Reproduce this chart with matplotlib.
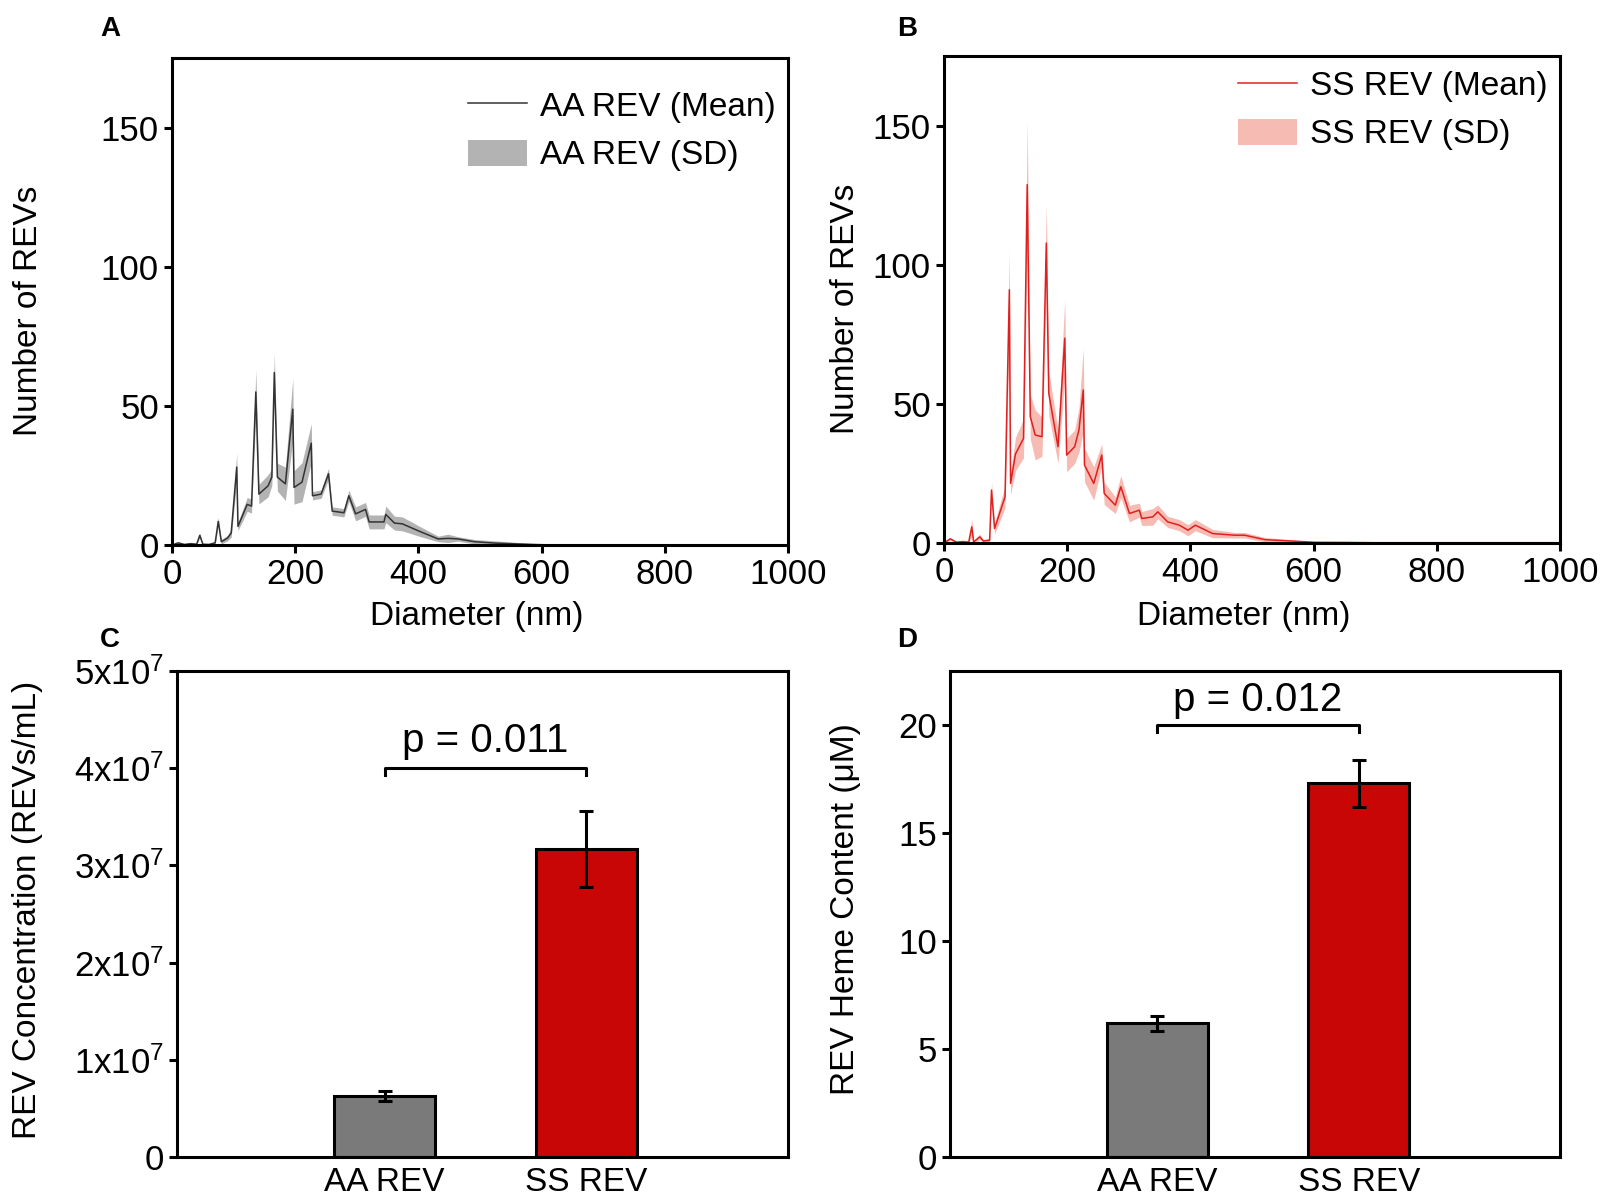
import matplotlib
matplotlib.use("Agg")
import matplotlib.pyplot as plt
from matplotlib.patches import Patch
from matplotlib.lines import Line2D
import numpy as np

plt.rcParams['font.family'] = ['Liberation Sans', 'DejaVu Sans']
plt.rcParams['mathtext.fontset'] = 'custom'
plt.rcParams['mathtext.rm'] = 'Liberation Sans'
plt.rcParams['mathtext.default'] = 'regular'

# panel A - AA REV size distribution
d_aa = [0, 10, 20, 30, 40, 45, 50, 60, 70, 75, 80, 90, 96, 105, 107, 122, 129, 136, 141, 156,
        162, 166, 171, 184, 196, 198, 211, 226, 228, 242, 254, 260, 279, 287, 298, 314, 320, 344,
        347, 361, 374, 402, 432, 448, 464, 491, 524, 579, 620, 700, 800, 900, 1000]
mean_aa = [0, 0.8, 0.2, 0.5, 0.3, 3.5, 0.3, 0.2, 0.8, 8.5, 1.2, 2.5, 4.3, 28, 6.7, 14.6, 14, 55,
           18.3, 21.3, 24.4, 62, 24.4, 22, 48.8, 20.7, 22.6, 36.6, 17.7, 18.3, 25.6, 12.2, 11.6,
           17.7, 11.2, 12.8, 8.3, 8.3, 11, 7.9, 7.6, 4.9, 2.2, 2.4, 2.2, 1.2, 0.7, 0.25, 0, 0, 0, 0, 0]
sd_aa = [0, 0.3, 0.2, 0.3, 0.2, 0.8, 0.2, 0.2, 0.5, 1.5, 0.8, 1, 1.5, 5, 1.5, 2.5, 2.5, 8, 3.5, 4,
         3, 7, 5, 6, 11, 6, 7, 7, 1.5, 1.5, 2, 1.5, 1.5, 2, 2.5, 2.5, 2.5, 2.5, 3, 2.5, 2.5, 1.8,
         1, 1.5, 0.8, 0.8, 0.8, 0.4, 0, 0, 0, 0, 0]

# panel B - SS REV size distribution
d_ss = [0, 10, 20, 30, 40, 45, 48, 58, 64, 74, 77, 82, 99, 106, 108, 116, 129, 135, 140, 148,
        159, 166, 170, 185, 196, 199, 212, 219, 226, 228, 243, 256, 260, 278, 287, 301, 317, 321,
        339, 347, 363, 382, 396, 408, 436, 472, 488, 521, 564, 602, 650, 700, 800, 900, 1000]
mean_ss = [0, 1.5, 0.3, 0.5, 0.3, 5.8, 0.4, 2.2, 0.7, 1, 19, 5.2, 16.6, 91, 21.4, 32, 37.6, 128.8,
           45.4, 38.8, 38.2, 107.8, 53.8, 34.6, 73.6, 31.6, 34.6, 40.6, 55, 28, 21.4, 31.6, 17.8,
           13.6, 20.2, 10.6, 11.8, 8.8, 9.4, 11.2, 7.6, 6.4, 4.6, 6.4, 3.4, 2.8, 2.8, 1.2, 0.7,
           0.25, 0.2, 0.1, 0.1, 0.1, 0.1]
sd_ss = [0, 0.5, 0.3, 0.5, 0.3, 3, 0.4, 1, 0.5, 0.8, 3, 2, 4, 14, 4, 6, 7, 23, 8, 9, 7, 14, 8, 6,
         14, 6, 6, 8, 15, 6, 6, 4, 4, 3, 4, 3, 2.5, 2.5, 3, 2.5, 2, 2, 2, 2, 1.5, 1, 1, 0.8, 0.5,
         0.3, 0.2, 0.2, 0.1, 0.1, 0.1]

# panels C, D - bars
groups = ["AA REV", "SS REV"]
conc = [6.3e6, 3.17e7]
conc_err = [0.5e6, 3.9e6]
heme = [6.2, 17.3]
heme_err = [0.35, 1.1]
p_conc = "p = 0.011"
p_heme = "p = 0.012"

bar_colors = ["#7a7a7a", "#c80606"]

fig = plt.figure(figsize=(16.02, 12), dpi=100)
axA = fig.add_axes([0.1074, 0.5458, 0.3845, 0.4059])
axB = fig.add_axes([0.5893, 0.5475, 0.3845, 0.4058])
axC = fig.add_axes([0.1105, 0.0358, 0.3814, 0.4050])
axD = fig.add_axes([0.5930, 0.0358, 0.3808, 0.4050])

spine_w = 2.2
for ax in (axA, axB, axC, axD):
    for s in ax.spines.values():
        s.set_linewidth(spine_w)
    ax.tick_params(direction='out', length=6, width=spine_w, labelsize=25,
                   top=False, right=False)

# line panels
def dist_panel(ax, d, m, sd, lc, fc, name, anchor):
    d = np.array(d)
    m = np.array(m)
    sd = np.array(sd)
    ax.fill_between(d, m - sd, m + sd, color=fc, lw=0)
    ax.plot(d, m, color=lc, lw=1.1)
    ax.set_xlim(0, 1000)
    ax.set_ylim(0, 175)
    ax.set_xticks([0, 200, 400, 600, 800, 1000])
    ax.set_yticks([0, 50, 100, 150])
    ax.set_xlabel("Diameter (nm)", fontsize=24)
    ax.set_ylabel("Number of REVs", fontsize=24)
    handles = [Line2D([], [], color=lc, lw=1.1), Patch(color=fc, lw=0)]
    ax.legend(handles, [name + " (Mean)", name + " (SD)"], loc='upper right',
              bbox_to_anchor=anchor, frameon=False, fontsize=24, borderpad=0,
              borderaxespad=0, handlelength=1.75, handleheight=0.85,
              handletextpad=0.4, labelspacing=0.5)

dist_panel(axA, d_aa, mean_aa, sd_aa, "#333333", "#b3b3b3", "AA REV", (0.98, 0.932))
dist_panel(axB, d_ss, mean_ss, sd_ss, "#e02020", "#f6bcb4", "SS REV", (0.98, 0.971))
axA.xaxis.set_label_coords(0.494, -0.115)
axB.xaxis.set_label_coords(0.487, -0.119)
axA.yaxis.set_label_coords(-0.208, 0.48)
axB.yaxis.set_label_coords(-0.135, 0.48)

# bar panels
def bar_panel(ax, vals, errs, ymax, yticks, yticklabels, ylabel, br_y, br_d, txt_y, ptxt):
    x = np.arange(len(groups))
    ax.bar(x, vals, width=0.5, color=bar_colors, edgecolor='black', linewidth=2.2)
    ax.errorbar(x, vals, yerr=errs, fmt='none', ecolor='black', elinewidth=2.2,
                capsize=5, capthick=2.2)
    ax.set_xlim(-1.03, 2.0)
    ax.set_ylim(0, ymax)
    ax.set_xticks(x)
    ax.set_xticklabels(groups, fontsize=24)
    ax.tick_params(axis='x', length=0, pad=7)
    ax.set_yticks(yticks)
    ax.set_yticklabels(yticklabels)
    ax.set_ylabel(ylabel, fontsize=24)
    ax.plot([x[0], x[0], x[1], x[1]], [br_y - br_d, br_y, br_y, br_y - br_d],
            color='black', lw=2.2)
    ax.text((x[0] + x[1]) / 2, txt_y, ptxt, ha='center', va='center', fontsize=29)

bar_panel(axC, conc, conc_err, 5e7, [0, 1e7, 2e7, 3e7, 4e7, 5e7],
          ["0", r"1x10$^7$", r"2x10$^7$", r"3x10$^7$", r"4x10$^7$", r"5x10$^7$"],
          "REV Concentration (REVs/mL)", 4.0e7, 0.07e7, 4.28e7, p_conc)
bar_panel(axD, heme, heme_err, 22.5, [0, 5, 10, 15, 20],
          ["0", "5", "10", "15", "20"],
          "REV Heme Content (\u03bcM)", 20.0, 0.3, 21.16, p_heme)
axC.yaxis.set_label_coords(-0.219, 0.508)
axD.yaxis.set_label_coords(-0.146, 0.51)

for lab, (px, py) in zip("ABCD", [(110, 29), (907, 29), (110, 640), (907, 640)]):
    fig.text(px / 1602, 1 - py / 1200, lab, fontsize=20, fontweight='bold',
             ha='center', va='center')

fig.savefig("out.png", dpi=100)
